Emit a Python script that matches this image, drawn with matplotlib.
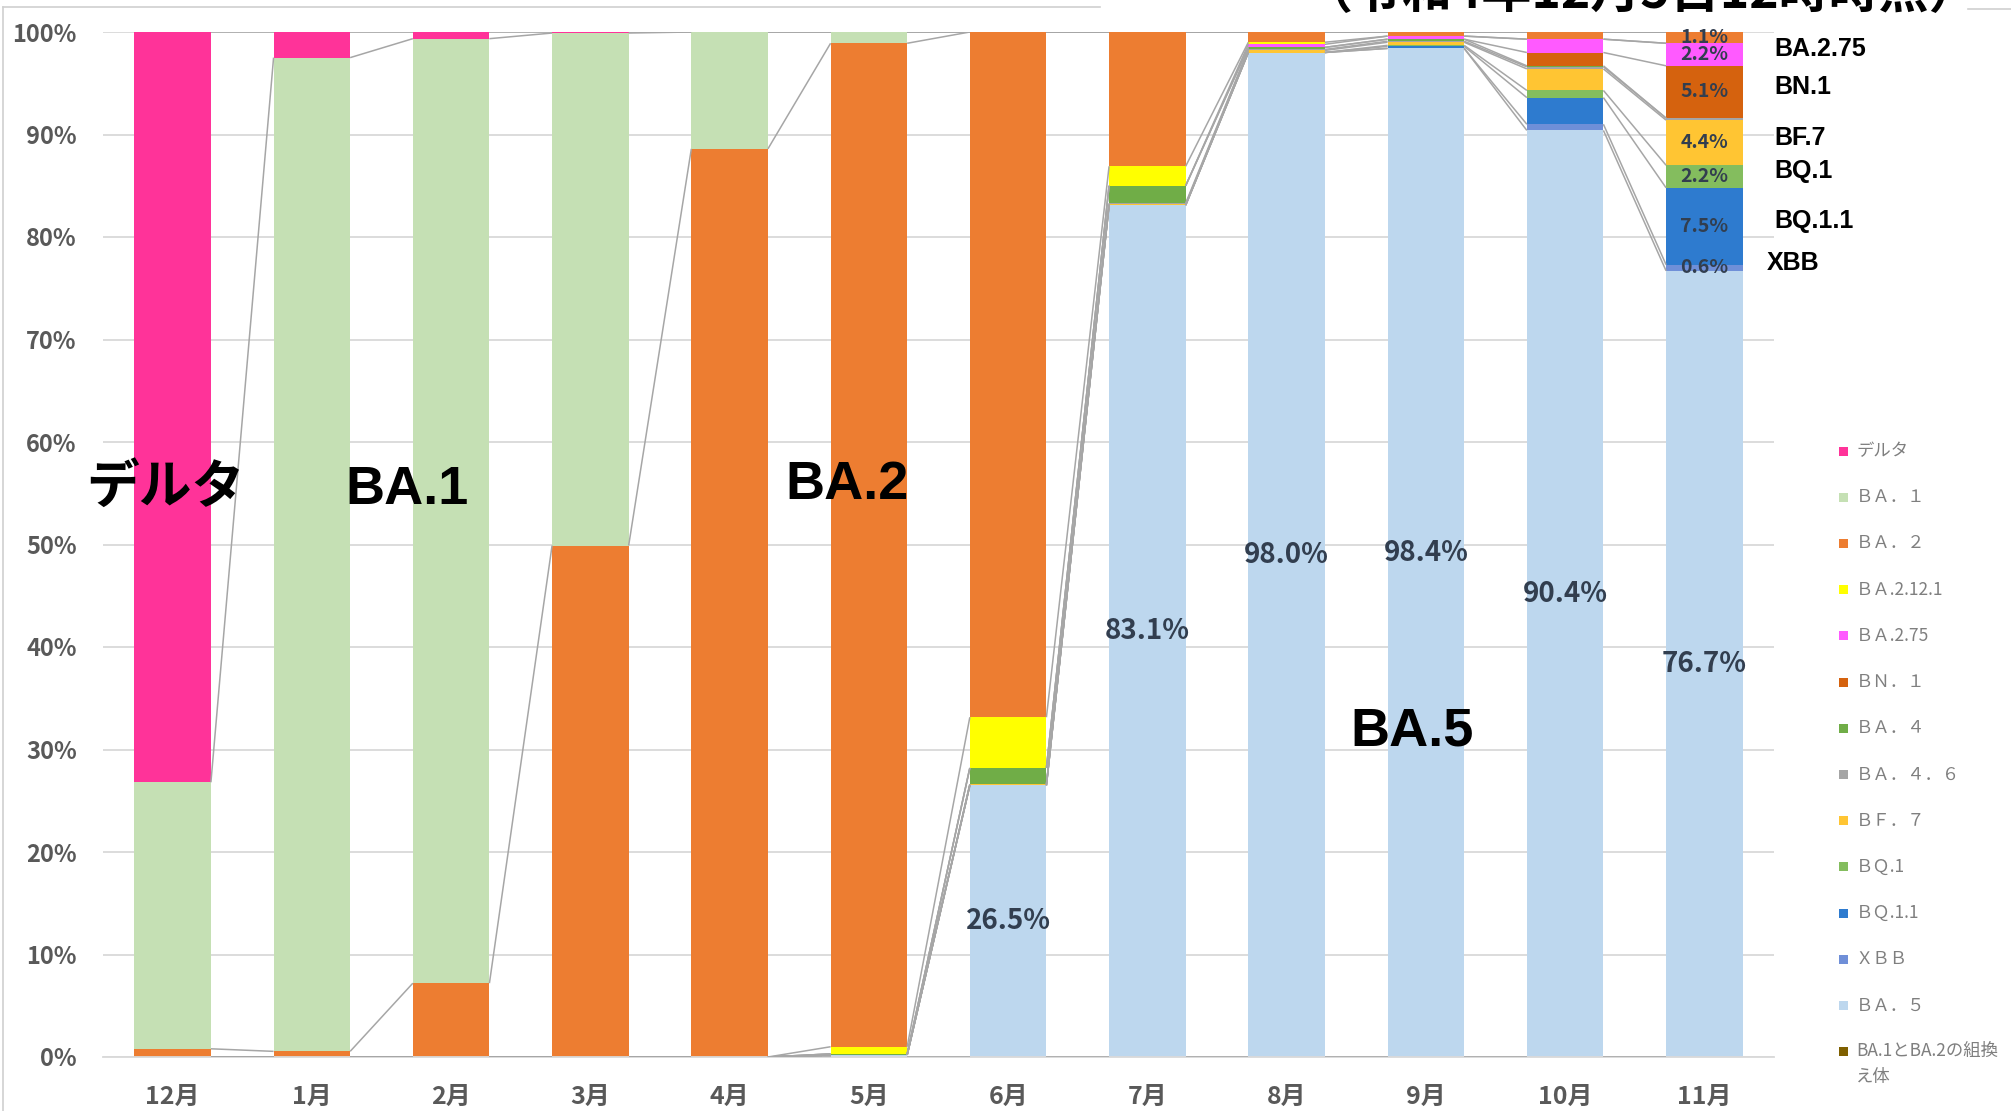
import numpy as np
import matplotlib.pyplot as plt
from matplotlib.patches import Rectangle
from matplotlib.lines import Line2D

plt.rcParams['font.family'] = ['Noto Sans CJK JP', 'DejaVu Sans']

# ============================================================
# データ (%)
# ============================================================
months = ['12月', '1月', '2月', '3月', '4月', '5月', '6月', '7月', '8月', '9月', '10月', '11月']

recomb  = [0, 0, 0, 0, 0, 0, 0, 0, 0, 0, 0, 0]
ba5     = [0, 0, 0, 0, 0, 0.2, 26.5, 83.1, 98.0, 98.4, 90.4, 76.7]
xbb     = [0, 0, 0, 0, 0, 0, 0, 0, 0, 0, 0.6, 0.6]
bq11    = [0, 0, 0, 0, 0, 0, 0, 0, 0, 0.2, 2.6, 7.5]
bq1     = [0, 0, 0, 0, 0, 0, 0, 0, 0, 0.1, 0.7, 2.2]
bf7     = [0, 0, 0, 0, 0, 0, 0.1, 0.1, 0.2, 0.3, 2.1, 4.4]
ba46    = [0, 0, 0, 0, 0, 0, 0, 0.1, 0.1, 0.1, 0.2, 0.2]
ba4     = [0, 0, 0, 0, 0, 0.1, 1.6, 1.7, 0.2, 0.2, 0.1, 0]
bn1     = [0, 0, 0, 0, 0, 0, 0, 0, 0, 0, 1.3, 5.1]
ba275   = [0, 0, 0, 0, 0, 0, 0, 0, 0.3, 0.3, 1.3, 2.2]
ba2121  = [0, 0, 0, 0, 0, 0.7, 4.95, 1.9, 0.2, 0, 0, 0]
ba2     = [0.8, 0.55, 7.2, 49.9, 88.6, 97.9, 66.85, 13.1, 1.0, 0.4, 0.7, 1.1]
ba1     = [26.0, 96.95, 92.15, 50.0, 11.4, 1.1, 0, 0, 0, 0, 0, 0]
delta   = [73.2, 2.5, 0.65, 0.1, 0, 0, 0, 0, 0, 0, 0, 0]

# 積み上げ順（下から上）: (凡例ラベル, 値, 色)
stack = [
    ('BA.1とBA.2の組換\nえ体', recomb, '#7F6000'),
    ('ＢＡ．５', ba5, '#BDD7EE'),
    ('ＸＢＢ', xbb, '#6F8FD8'),
    ('ＢＱ.1.1', bq11, '#2E7BCF'),
    ('ＢＱ.1', bq1, '#84BD5E'),
    ('ＢＦ．７', bf7, '#FFC533'),
    ('ＢＡ．４．６', ba46, '#A5A5A5'),
    ('ＢＡ．４', ba4, '#70AD47'),
    ('ＢＮ．１', bn1, '#D5620E'),
    ('ＢＡ.2.75', ba275, '#FF5AFF'),
    ('ＢＡ.2.12.1', ba2121, '#FFFF00'),
    ('ＢＡ．２', ba2, '#ED7D31'),
    ('ＢＡ．１', ba1, '#C5E0B4'),
    ('デルタ', delta, '#FF3399'),
]

# ============================================================
# 描画
# ============================================================
W, H = 2011, 1111
fig = plt.figure(figsize=(W / 100, H / 100), dpi=100)
ax = fig.add_axes([103 / W, 54 / H, (1774 - 103) / W, (1057 - 32) / H])

x = np.arange(len(months))
bw = 0.55
bottom = np.zeros(len(months))
tops = []
segs = {}
for name, vals, col in stack:
    v = np.array(vals, dtype=float)
    ax.bar(x, v, bw, bottom=bottom, color=col, linewidth=0, zorder=2)
    segs[name] = (bottom.copy(), v)
    bottom = bottom + v
    tops.append(bottom.copy())

# 区分線（系列線）
for t in tops:
    for i in range(len(months) - 1):
        ax.plot([i + bw / 2, i + 1 - bw / 2], [t[i], t[i + 1]],
                color='#A6A6A6', lw=1.1, zorder=3, solid_capstyle='butt')

# データラベル
lab_col = '#323E4F'
b, v = segs['ＢＡ．５']
for i in range(6, 12):
    ax.text(i, b[i] + v[i] / 2, f'{v[i]:.1f}%', ha='center', va='center',
            fontsize=20, fontweight='bold', color=lab_col, zorder=5)

last = len(months) - 1
for key in ['ＸＢＢ', 'ＢＱ.1.1', 'ＢＱ.1', 'ＢＦ．７', 'ＢＮ．１', 'ＢＡ.2.75', 'ＢＡ．２']:
    b, v = segs[key]
    ax.text(last, b[last] + v[last] / 2, f'{v[last]:.1f}%', ha='center', va='center',
            fontsize=14, fontweight='bold', color=lab_col, zorder=5)

# 右側の系統名
side = [('ＢＡ.2.75', 'BA.2.75'), ('ＢＮ．１', 'BN.1'), ('ＢＦ．７', 'BF.7'),
        ('ＢＱ.1', 'BQ.1'), ('ＢＱ.1.1', 'BQ.1.1'), ('ＸＢＢ', 'XBB')]
for key, txt in side:
    b, v = segs[key]
    xx = 11.45 if txt == 'XBB' else 11.5
    ax.text(xx, b[last] + v[last] / 2 + 0.5, txt, ha='left', va='center',
            fontsize=18, fontweight='bold', color='black',
            family=['Liberation Sans', 'DejaVu Sans'], clip_on=False, zorder=6)

# 大きな系統名
ax.text(-0.05, 55.6, 'デルタ', ha='center', va='center', fontsize=38,
        fontweight='bold', color='black', zorder=6)
big = [(1.68, 55.3, 'BA.1'), (4.84, 55.8, 'BA.2'), (8.9, 31.8, 'BA.5')]
for bx, by, txt in big:
    ax.text(bx, by, txt, ha='center', va='center', fontsize=39, fontweight='bold',
            color='black', family=['Liberation Sans', 'DejaVu Sans'], zorder=6)

# 軸
ax.set_xlim(-0.5, len(months) - 0.5)
ax.set_ylim(0, 100)
ax.set_yticks(np.arange(0, 101, 10))
ax.set_yticklabels([f'{t}%' for t in range(0, 101, 10)], fontsize=17,
                   fontweight='bold', color='#595959')
ax.set_xticks(x)
ax.set_xticklabels(months, fontsize=18, fontweight='bold', color='#595959')
ax.tick_params(axis='y', length=0, pad=19)
ax.tick_params(axis='x', length=0, pad=20)
ax.yaxis.grid(True, color='#D9D9D9', lw=1.3, zorder=0)
ax.set_axisbelow(True)
for s in ['left', 'right', 'top']:
    ax.spines[s].set_visible(False)
ax.spines['bottom'].set_color('#D9D9D9')
ax.spines['bottom'].set_linewidth(1.3)

# 凡例（手動）
y0 = 451
step = 46.2
for k, (name, vals, col) in enumerate(stack[::-1]):
    yy = 1 - (y0 + step * k) / H
    fig.add_artist(Rectangle((1839 / W, yy - 4.5 / H), 9 / W, 9 / H,
                             transform=fig.transFigure, color=col, lw=0))
    va = 'top' if '\n' in name else 'center'
    ty = yy + 10 / H if '\n' in name else yy
    fig.text(1856 / W, ty, name, ha='left', va=va, fontsize=12.5,
             color='#7F7F7F', linespacing=1.6)

# 外枠
fig.add_artist(Line2D([3 / W, 3 / W], [0, 1 - 7 / H], transform=fig.transFigure,
                      color='#D0D0D0', lw=1.2))
fig.add_artist(Line2D([3 / W, 1100 / W], [1 - 7 / H, 1 - 7 / H], transform=fig.transFigure,
                      color='#D0D0D0', lw=1.2))
fig.add_artist(Line2D([1968 / W, 1], [1 - 9 / H, 1 - 9 / H], transform=fig.transFigure,
                      color='#D0D0D0', lw=1.2))

# 上端で切れているタイトル（元画像でも上半分が切れている）
fig.text(1641 / W, 1 - 8 / H, '（令和4年12月5日12時時点）', ha='center', va='baseline',
         fontsize=36, fontweight='bold', color='black')

fig.savefig('out.png', dpi=100)
